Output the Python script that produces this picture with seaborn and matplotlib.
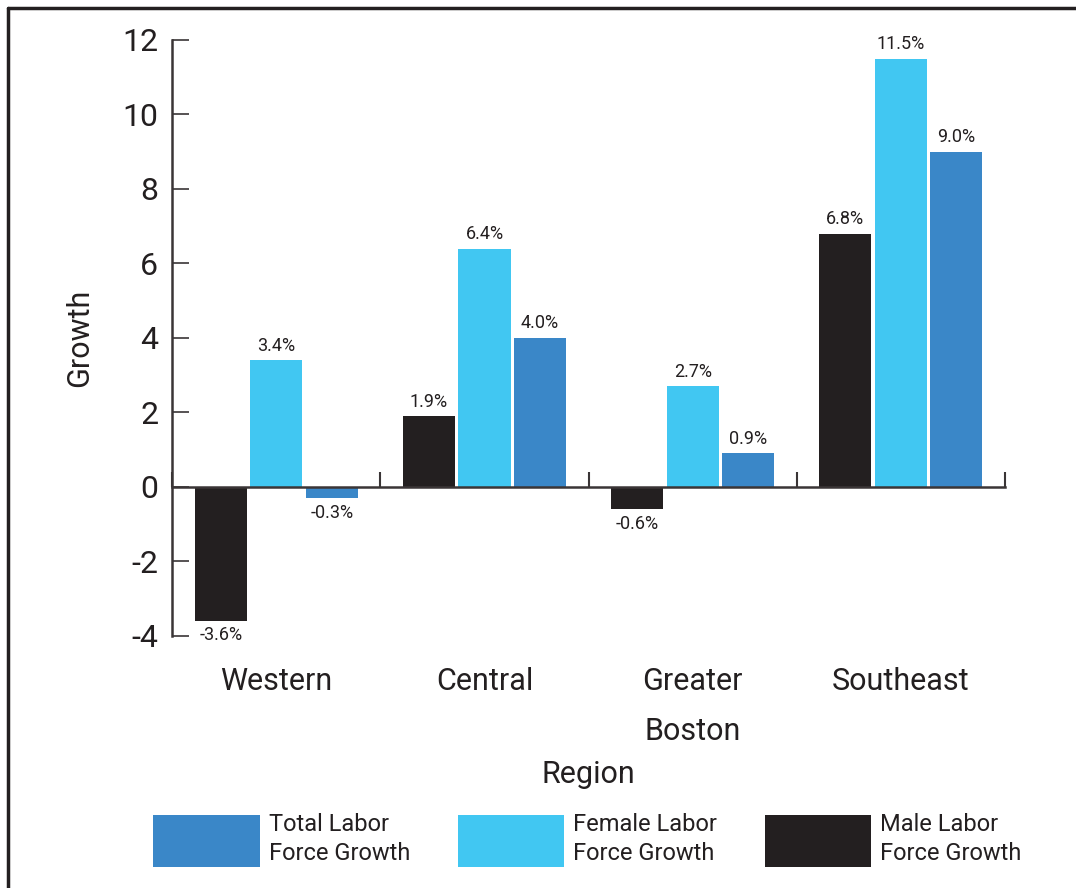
import pandas as pd
import matplotlib.pyplot as plt
import seaborn as sns
from matplotlib.lines import Line2D

regions = ["Western", "Central", "Greater\nBoston", "Southeast"]
male_growth = [-3.6, 1.9, -0.6, 6.8]
female_growth = [3.4, 6.4, 2.7, 11.5]
total_growth = [-0.3, 4.0, 0.9, 9.0]
series_names = ["Male Labor\nForce Growth", "Female Labor\nForce Growth", "Total Labor\nForce Growth"]
y_ticks = [-4, -2, 0, 2, 4, 6, 8, 10, 12]

colors = {"Male Labor\nForce Growth": "#231F20",
          "Female Labor\nForce Growth": "#41C7F2",
          "Total Labor\nForce Growth": "#3A87C8"}

df = pd.DataFrame({
    "region": regions * 3,
    "growth": male_growth + female_growth + total_growth,
    "series": [s for s in series_names for _ in regions],
})

sns.set_style("white")
plt.rcParams['font.family'] = ['Roboto', 'DejaVu Sans']
plt.rcParams['axes.unicode_minus'] = False
txt = "#231F20"
line_c = "#3a3536"

fig = plt.figure(figsize=(10.76, 8.88), dpi=100)
ax = fig.add_axes([0.16, 0.284, 0.774, 0.671])

sns.barplot(data=df, x="region", y="growth", hue="series", hue_order=series_names,
            palette=colors, saturation=1, width=0.8, gap=0.06, linewidth=0,
            legend=False, ax=ax)

for c in ax.containers:
    ax.bar_label(c, fmt="%.1f%%", padding=4, fontsize=13, color=txt)

ax.set_ylim(-4, 12)
ax.set_xlim(-0.5, 3.5)
ax.set_yticks(y_ticks)
ax.set_xticks([-0.5, 0.5, 1.5, 2.5, 3.5], labels=[])
ax.set_xticks(range(len(regions)), labels=regions, minor=True)

for s in ["top", "right"]:
    ax.spines[s].set_visible(False)
ax.spines["bottom"].set_position(("data", 0))
for s in ["left", "bottom"]:
    ax.spines[s].set_color(line_c)
    ax.spines[s].set_linewidth(1.8)

ax.tick_params(axis="y", left=True, direction="in", length=12, width=1.2, color=line_c,
               labelsize=23, labelcolor=txt, pad=10)
ax.tick_params(axis="x", which="major", bottom=True, direction="in", length=11,
               width=1.5, color=line_c)
ax.tick_params(axis="x", which="minor", bottom=True, length=0, pad=130,
               labelsize=22, labelcolor=txt)
for lbl in ax.get_xticklabels(minor=True):
    lbl.set_linespacing(1.9)

ax.set_xlabel("Region", fontsize=22, color=txt, labelpad=10)
ax.set_ylabel("Growth", fontsize=22, color=txt, labelpad=20)

handles = list(ax.containers)[::-1]
fig.legend([h[0] for h in handles], series_names[::-1], loc="lower center",
           bbox_to_anchor=(0.546, 0.0), ncol=3, frameon=False, fontsize=17,
           handlelength=4.5, handleheight=3.0, handletextpad=0.4, columnspacing=2.0,
           labelcolor=txt, labelspacing=0.3)
for t in fig.legends[0].get_texts():
    t.set_linespacing(1.35)

fig.add_artist(Line2D([8 / 1076, 8 / 1076], [0, 1 - 8 / 888], color="#231F20", lw=2.5))
fig.add_artist(Line2D([8 / 1076, 1], [1 - 8 / 888, 1 - 8 / 888], color="#231F20", lw=2.5))

fig.savefig("out.png", dpi=100)
